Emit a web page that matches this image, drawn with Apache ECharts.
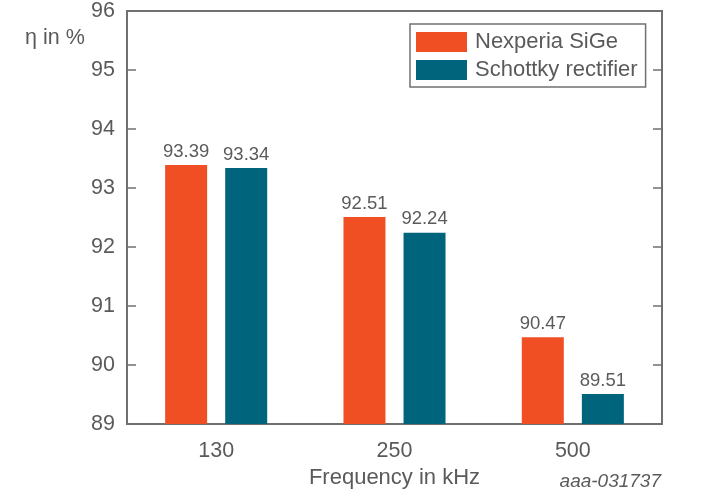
<!DOCTYPE html>
<html>
<head>
<meta charset="utf-8">
<script src="https://cdn.jsdelivr.net/npm/echarts@6/dist/echarts.min.js"></script>
<style>html,body{margin:0;padding:0;background:#fff}#c{width:723px;height:500px}</style>
</head>
<body>
<div id="c"></div>
<script>
const categories = ['130', '250', '500'];
const seriesNames = ['Nexperia SiGe', 'Schottky rectifier'];
const sigeValues = [93.39, 92.51, 90.47];
const schottkyValues = [93.34, 92.24, 89.51];
const yTicks = [89, 90, 91, 92, 93, 94, 95, 96];

const axisColor = '#707070';
const textColor = '#5a5a5a';
const font = 'Liberation Sans, Arial, sans-serif';

const chart = echarts.init(document.getElementById('c'), null, {renderer: 'canvas'});
const labelOpt = {show: true, position: 'top', distance: 4, fontSize: 18.5, color: textColor, fontFamily: font,
  formatter: p => p.value.toFixed(2)};
chart.setOption({
  animation: false,
  textStyle: {fontFamily: font},
  grid: {left: 127, right: 61, top: 9, bottom: 76, show: true, borderColor: axisColor, borderWidth: 2, backgroundColor: 'transparent'},
  legend: {
    left: 410, top: 24, orient: 'vertical',
    data: seriesNames,
    itemWidth: 51, itemHeight: 20, itemGap: 6,
    padding: [7, 8, 6, 6],
    borderColor: axisColor, borderWidth: 1.5,
    textStyle: {fontSize: 22, color: textColor, fontFamily: font, lineHeight: 20, padding: [0, 0, 0, 3]},
    icon: 'rect'
  },
  xAxis: [{
    type: 'category', data: categories,
    axisLine: {lineStyle: {color: axisColor, width: 2}},
    axisTick: {inside: true, alignWithLabel: true, length: 8, lineStyle: {color: axisColor, width: 1.5}},
    axisLabel: {fontSize: 21.5, color: textColor, margin: 16, fontFamily: font},
    name: 'Frequency in kHz', nameLocation: 'middle', nameGap: 38,
    nameTextStyle: {fontSize: 22, color: textColor, fontFamily: font}
  }],
  yAxis: [{
    type: 'value', min: yTicks[0], max: yTicks[yTicks.length - 1], interval: 1,
    axisLine: {show: true, lineStyle: {color: axisColor, width: 2}},
    axisTick: {show: true, inside: true, length: 9, lineStyle: {color: axisColor, width: 1.5}},
    axisLabel: {fontSize: 21.5, color: textColor, margin: 12, fontFamily: font},
    splitLine: {show: false}
  }, {
    type: 'value', position: 'right', min: yTicks[0], max: yTicks[yTicks.length - 1], interval: 1,
    axisLine: {show: true, lineStyle: {color: axisColor, width: 2}},
    axisTick: {show: true, inside: true, length: 9, lineStyle: {color: axisColor, width: 1.5}},
    axisLabel: {show: false},
    splitLine: {show: false}
  }],
  series: [{
    name: seriesNames[0], type: 'bar', data: sigeValues, barWidth: 42, barGap: '43%',
    itemStyle: {color: '#F04E23'}, label: labelOpt
  }, {
    name: seriesNames[1], type: 'bar', data: schottkyValues, barWidth: 42,
    itemStyle: {color: '#00657C'}, label: labelOpt
  }],
  graphic: [{
    type: 'text', left: 25, top: 27,
    style: {text: 'η in %', fontSize: 21.5, fill: textColor, fontFamily: font}
  }, {
    type: 'text', right: 62, top: 472,
    style: {text: 'aaa-031737', fontSize: 19, fontStyle: 'italic', fill: textColor, fontFamily: font}
  }]
});
</script>
</body>
</html>
